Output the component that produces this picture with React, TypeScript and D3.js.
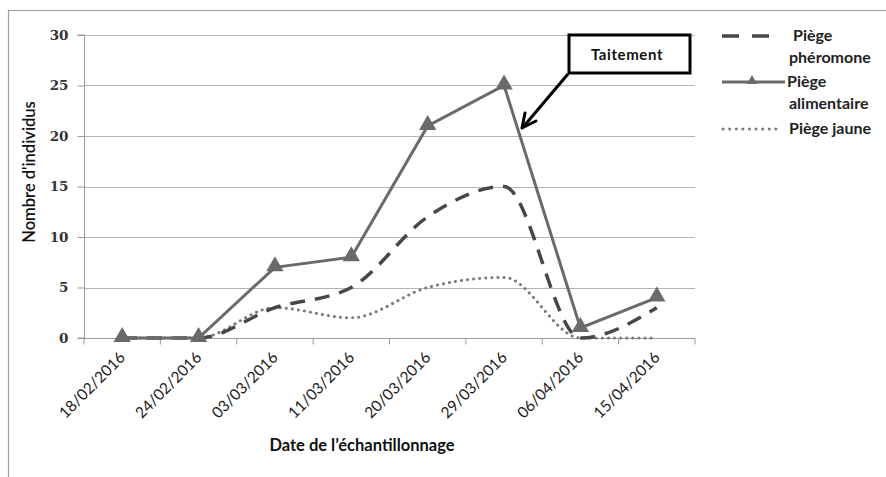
import * as d3 from 'd3'
import { useEffect, useRef } from 'react'

const dates = ['18/02/2016', '24/02/2016', '03/03/2016', '11/03/2016', '20/03/2016', '29/03/2016', '06/04/2016', '15/04/2016']
const pheromone = [0, 0, 3, 5, 12, 15, 0, 3]
const alimentaire = [0, 0, 7, 8, 21, 25, 1, 4]
const jaune = [0, 0, 3, 2, 5, 6, 0, 0]
const yTicks = [0, 5, 10, 15, 20, 25, 30]

const W = 886
const H = 477

export default function App() {
  const ref = useRef<SVGSVGElement>(null)

  useEffect(() => {
    const svg = d3.select(ref.current)
    svg.selectAll('*').remove()
    svg.attr('width', W).attr('height', H)

    const left = 84, right = 695, top = 35, bottom = 338
    const x = d3.scaleBand().domain(dates).range([left, right])
    const y = d3.scaleLinear().domain([0, 30]).range([bottom, top])
    const cx = (i: number) => (x(dates[i]) as number) + x.bandwidth() / 2

    // outer frame
    svg.append('rect')
      .attr('x', 8.5).attr('y', 10.5)
      .attr('width', W + 10).attr('height', H + 10)
      .attr('fill', 'white').attr('stroke', '#a0a0a0').attr('stroke-width', 1.2)

    // grid
    svg.append('g').selectAll('line')
      .data(yTicks.slice(1))
      .join('line')
      .attr('x1', left).attr('x2', right)
      .attr('y1', d => Math.round(y(d)) + 0.5).attr('y2', d => Math.round(y(d)) + 0.5)
      .attr('stroke', '#b4b4b4').attr('stroke-width', 1)

    // y axis
    const yAxis = d3.axisLeft(y).tickValues(yTicks).tickSize(7).tickPadding(9)
    const yg = svg.append('g').attr('transform', `translate(${left + 0.5},0)`).call(yAxis)
    yg.select('.domain').attr('stroke', '#9a9a9a').attr('d', `M-7,${bottom}H0V${top}H-7`)
    yg.selectAll('.tick line').attr('stroke', '#9a9a9a')
    yg.selectAll('.tick text')
      .attr('font-family', '"DejaVu Serif", serif').attr('font-weight', 'bold')
      .attr('font-size', 13.5).attr('fill', '#333')

    // x axis
    const xg = svg.append('g').attr('transform', `translate(0,${bottom + 0.5})`)
    xg.append('line').attr('x1', left).attr('x2', right).attr('stroke', '#9a9a9a')
    const bounds = d3.range(dates.length + 1).map(i => left + i * x.bandwidth())
    xg.selectAll('line.tk').data(bounds).join('line').attr('class', 'tk')
      .attr('x1', d => d).attr('x2', d => d).attr('y1', 0).attr('y2', 6)
      .attr('stroke', '#9a9a9a')
    xg.selectAll('text').data(dates).join('text')
      .attr('transform', (d, i) => `translate(${cx(i) + 4},${20}) rotate(-45)`)
      .attr('text-anchor', 'end')
      .attr('font-family', 'Lato, sans-serif').attr('font-size', 15.5).attr('fill', '#222')
      .text(d => d)

    // lines
    const line = (curve: d3.CurveFactory) => d3.line<number>()
      .x((d, i) => cx(i)).y(d => y(d)).curve(curve)

    svg.append('path').datum(jaune)
      .attr('d', line(d3.curveMonotoneX))
      .attr('fill', 'none').attr('stroke', '#7a7a7a').attr('stroke-width', 3)
      .attr('stroke-dasharray', '0.1 6').attr('stroke-linecap', 'round')

    svg.append('path').datum(pheromone)
      .attr('d', line(d3.curveMonotoneX))
      .attr('fill', 'none').attr('stroke', '#474747').attr('stroke-width', 3.5)
      .attr('stroke-dasharray', '15 10')

    svg.append('path').datum(alimentaire)
      .attr('d', line(d3.curveLinear))
      .attr('fill', 'none').attr('stroke', '#6a6a6a').attr('stroke-width', 3)

    const tri = d3.symbol().type(d3.symbolTriangle).size(130)
    svg.append('g').selectAll('path')
      .data(alimentaire).join('path')
      .attr('transform', (d, i) => `translate(${cx(i)},${y(d) - 1})`)
      .attr('d', tri()).attr('fill', '#6a6a6a')

    // axis titles
    svg.append('text')
      .attr('transform', `translate(35,172) rotate(-90)`)
      .attr('text-anchor', 'middle')
      .attr('font-family', 'Lato, sans-serif').attr('font-size', 16.5).attr('font-weight', 600)
      .attr('fill', '#111')
      .text("Nombre d'individus")
    svg.append('text')
      .attr('x', 362).attr('y', 451)
      .attr('text-anchor', 'middle')
      .attr('font-family', 'Lato, sans-serif').attr('font-size', 16.5).attr('font-weight', 'bold')
      .attr('fill', '#111')
      .text('Date de l\u2019échantillonnage')

    // annotation
    svg.append('rect')
      .attr('x', 569).attr('y', 35).attr('width', 121).attr('height', 38)
      .attr('fill', 'white').attr('stroke', '#000').attr('stroke-width', 3)
    svg.append('text')
      .attr('x', 627).attr('y', 60).attr('text-anchor', 'middle')
      .attr('font-family', 'Lato, sans-serif').attr('font-size', 15).attr('font-weight', 'bold')
      .attr('letter-spacing', 0.6)
      .attr('fill', '#111').text('Taitement')
    svg.append('line')
      .attr('x1', 568).attr('y1', 74).attr('x2', 524).attr('y2', 126)
      .attr('stroke', '#000').attr('stroke-width', 3)
    svg.append('path')
      .attr('d', 'M522,128 L525,113 M522,128 L536,121')
      .attr('stroke', '#000').attr('stroke-width', 3).attr('fill', 'none').attr('stroke-linecap', 'round')

    // legend
    const lg = svg.append('g').attr('font-family', 'Lato, sans-serif').attr('font-size', 16)
      .attr('font-weight', 'bold').attr('fill', '#222')
    lg.append('line').attr('x1', 722).attr('x2', 770).attr('y1', 36).attr('y2', 36)
      .attr('stroke', '#474747').attr('stroke-width', 3.5).attr('stroke-dasharray', '17 13')
    lg.append('text').attr('x', 793).attr('y', 41).text('Piège')
    lg.append('text').attr('x', 789).attr('y', 63).text('phéromone')
    lg.append('line').attr('x1', 722).attr('x2', 785).attr('y1', 82).attr('y2', 82)
      .attr('stroke', '#6a6a6a').attr('stroke-width', 3)
    lg.append('path').attr('transform', 'translate(752,81)').attr('d', d3.symbol().type(d3.symbolTriangle).size(45)())
      .attr('fill', '#6a6a6a')
    lg.append('text').attr('x', 787).attr('y', 87).text('Piège')
    lg.append('text').attr('x', 789).attr('y', 109).text('alimentaire')
    lg.append('line').attr('x1', 723).attr('x2', 780).attr('y1', 129).attr('y2', 129)
      .attr('stroke', '#7a7a7a').attr('stroke-width', 3).attr('stroke-dasharray', '0.1 6.5')
      .attr('stroke-linecap', 'round')
    lg.append('text').attr('x', 789).attr('y', 134).text('Piège jaune')
  }, [])

  return <svg ref={ref} style={{ position: 'absolute', left: 0, top: 0 }} />
}
